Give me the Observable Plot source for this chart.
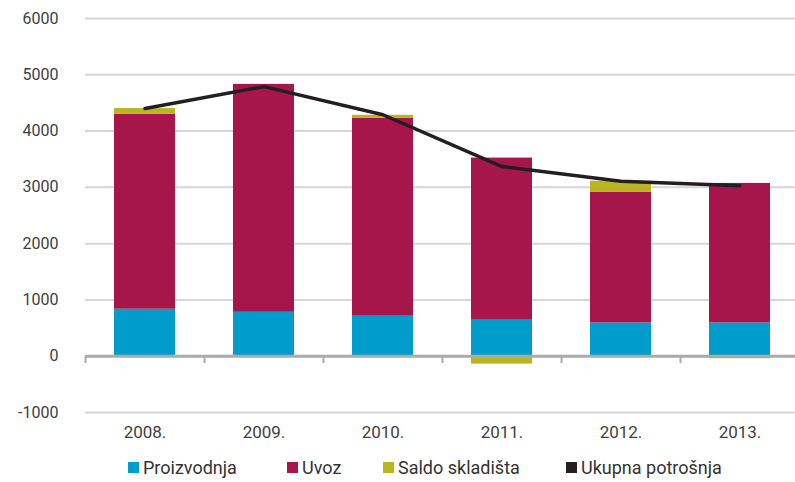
<!DOCTYPE html>
<html>
<head>
<meta charset="utf-8">
<script src="https://cdn.jsdelivr.net/npm/d3@7"></script>
<script src="https://cdn.jsdelivr.net/npm/@observablehq/plot@0.6"></script>
<style>
  body { margin: 0; background: #fff; font-family: Roboto, "DejaVu Sans", sans-serif; }
  #chart { width: 795px; overflow: hidden; }
  .legend { position: relative; height: 34px; font-size: 18px; color: #333; }
  .legend .item { position: absolute; top: 9px; display: flex; align-items: center; }
  .legend .sw { width: 11px; height: 11px; margin-right: 4px; }
</style>
</head>
<body>
<div id="chart"></div>
<script>
const years = ["2008.", "2009.", "2010.", "2011.", "2012.", "2013."];
const proizvodnja = [835, 780, 710, 640, 590, 590];
const uvoz = [3465, 4050, 3520, 2880, 2320, 2480];
const saldo = [100, 0, 50, -140, 200, -45];
const ukupna = [4400, 4790, 4290, 3370, 3110, 3030];
const yTicks = [-1000, 0, 1000, 2000, 3000, 4000, 5000, 6000];

const seriesNames = ["Proizvodnja", "Uvoz", "Saldo skladišta"];
const colors = {"Proizvodnja": "#009ccc", "Uvoz": "#a6164b", "Saldo skladišta": "#b8b422", "Ukupna potrošnja": "#231f20"};

const stackRows = [];
years.forEach((y, i) => {
  stackRows.push({year: y, series: "Proizvodnja", value: proizvodnja[i]});
  stackRows.push({year: y, series: "Uvoz", value: uvoz[i]});
  stackRows.push({year: y, series: "Saldo skladišta", value: saldo[i]});
});
const lineRows = years.map((y, i) => ({year: y, value: ukupna[i]}));

const W = 795, ML = 85, MR = -4;
const step = (W - ML - MR) / years.length;
const padOuter = 0.245;
const halfStep = step / 2;

const chart = Plot.plot({
  width: W,
  height: 448,
  marginLeft: ML,
  marginRight: MR,
  marginTop: 18,
  marginBottom: 36,
  style: {fontFamily: "Roboto, 'DejaVu Sans', sans-serif", fontSize: "16px", color: "#404040", overflow: "hidden"},
  x: {domain: years, paddingInner: 0.49, paddingOuter: padOuter, label: null},
  y: {domain: [-1000, 6000], label: null},
  color: {domain: Object.keys(colors), range: Object.values(colors)},
  marks: [
    Plot.ruleY(yTicks.filter(d => d !== 0), {stroke: "#d6d6d6", strokeWidth: 2}),
    Plot.barY(stackRows, Plot.stackY({order: seriesNames, x: "year", y: "value", fill: "series"})),
    Plot.ruleY([0], {stroke: "#aaaaaa", strokeWidth: 3}),
    Plot.ruleX(years, {x: d => d, y1: 0, y2: -130, stroke: "#aaaaaa", strokeWidth: 2, dx: -halfStep}),
    Plot.lineY(lineRows, {x: "year", y: "value", stroke: colors["Ukupna potrošnja"], strokeWidth: 3.5}),
    Plot.axisY({ticks: yTicks, tickSize: 0, tickPadding: 27, tickFormat: d => String(d), fontSize: 16}),
    Plot.axisX({tickSize: 0, tickPadding: 13, fontSize: 17})
  ]
});
document.getElementById("chart").appendChild(chart);

const legendItems = [
  {name: "Proizvodnja", left: 128},
  {name: "Uvoz", left: 287},
  {name: "Saldo skladišta", left: 383},
  {name: "Ukupna potrošnja", left: 566}
];
const legend = document.createElement("div");
legend.className = "legend";
legendItems.forEach(it => {
  const el = document.createElement("div");
  el.className = "item";
  el.style.left = it.left + "px";
  const sw = document.createElement("span");
  sw.className = "sw";
  sw.style.background = colors[it.name];
  const tx = document.createElement("span");
  tx.textContent = it.name;
  el.appendChild(sw); el.appendChild(tx);
  legend.appendChild(el);
});
document.getElementById("chart").appendChild(legend);
</script>
</body>
</html>
